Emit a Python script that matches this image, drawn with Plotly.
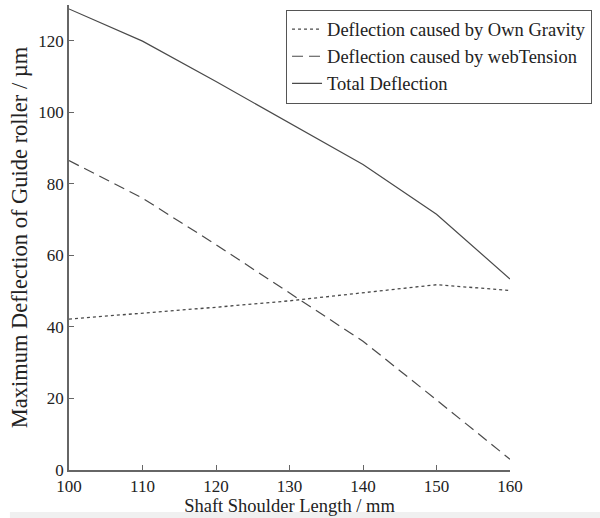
import plotly.graph_objects as go

shaft_length = [100, 110, 120, 130, 140, 150, 160]
own_gravity = [42.2, 43.8, 45.5, 47.3, 49.6, 51.8, 50.2]
web_tension = [86.5, 76.0, 63.0, 49.5, 36.0, 19.6, 3.0]
total = [128.9, 119.9, 108.6, 96.9, 85.4, 71.5, 53.4]

names = ["Deflection caused by Own Gravity",
         "Deflection caused by webTension",
         "Total Deflection"]

col = "#4a4a4a"
fig = go.Figure()
fig.add_trace(go.Scatter(x=shaft_length, y=own_gravity, mode="lines", name=names[0],
                         line=dict(color=col, width=1.3, dash="dot")))
fig.add_trace(go.Scatter(x=shaft_length, y=web_tension, mode="lines", name=names[1],
                         line=dict(color=col, width=1.2, dash="11px,6px")))
fig.add_trace(go.Scatter(x=shaft_length, y=total, mode="lines", name=names[2],
                         line=dict(color=col, width=1.2)))

font = "Liberation Serif, Times New Roman, serif"
fig.update_layout(
    width=600, height=518,
    margin=dict(l=69, r=90, t=5, b=48),
    paper_bgcolor="white", plot_bgcolor="white",
    font=dict(family=font, size=17, color="#222"),
    showlegend=True,
    legend=dict(x=1.186, xanchor="right", y=0.99, yanchor="top",
                bordercolor="#555", borderwidth=1, bgcolor="white",
                font=dict(size=18.5, family=font), itemwidth=30,
                tracegroupgap=0),
    xaxis=dict(range=[100, 160], tickvals=shaft_length, ticks="inside", ticklen=5,
               showline=True, linecolor="#666", linewidth=1.5, showgrid=False,
               zeroline=False, tickcolor="#666",
               title=dict(text="Shaft Shoulder Length / mm", standoff=0,
                          font=dict(size=18.5, family=font))),
    yaxis=dict(range=[0, 130], tickvals=[0, 20, 40, 60, 80, 100, 120], ticks="inside",
               ticklen=5, showline=True, linecolor="#666", linewidth=1.5, showgrid=False,
               zeroline=False, tickcolor="#666",
               title=dict(text="Maximum Deflection of Guide roller / µm", standoff=4,
                          font=dict(size=22.5, family=font))),
    shapes=[dict(type="rect", xref="paper", yref="paper", x0=-0.134, x1=1.21,
                 y0=-0.103, y1=-0.0903, fillcolor="#f0f0f0", line=dict(width=0),
                 layer="below")],
)
fig.write_html("out.html")
